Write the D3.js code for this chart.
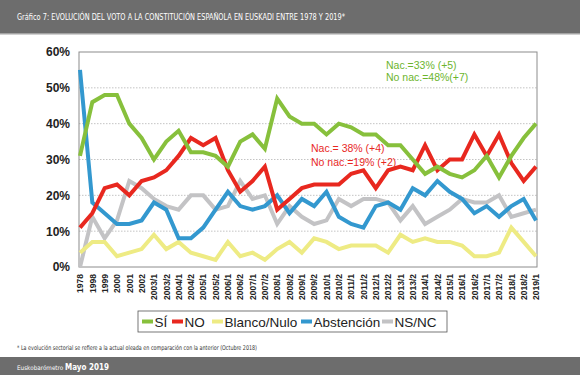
<!DOCTYPE html>
<html>
<head>
<meta charset="utf-8">
<script src="https://cdn.jsdelivr.net/npm/d3@7/dist/d3.min.js"></script>
<style>
  body { margin: 0; background: #fff; }
  svg { display: block; }
</style>
</head>
<body>
<svg id="chart" width="580" height="375"></svg>
<script>
const periods = ['1978', '1998', '1999', '2000', '2001', '2002', '2003/1', '2003/2', '2004/1', '2004/2',
  '2005/1', '2005/2', '2006/1', '2006/2', '2007/1', '2007/2', '2008/1', '2008/2', '2009/1', '2009/2',
  '2010/1', '2010/2', '2011/1', '2011/2', '2012/1', '2012/2', '2013/1', '2013/2', '2014/1', '2014/2',
  '2015/1', '2016/1', '2016/2', '2017/1', '2017/2', '2018/1', '2018/2', '2019/1'];

const si =        [31, 46, 48, 48, 40, 36, 30, 35, 38, 32, 32, 31, 28, 35, 37, 33, 47, 42, 40, 40,
                   37, 40, 39, 37, 37, 34, 34, 30, 26, 28, 26, 25, 27, 31, 25, 31, 36, 40];
const no =        [11, 15, 22, 23, 20, 24, 25, 27, 31, 36, 34, 36, 27, 21, 24, 28, 16, 19, 22, 23,
                   23, 23, 26, 27, 22, 27, 28, 27, 34, 27, 30, 30, 37, 31, 37, 29, 24, 28];
const blanco =    [4, 7, 7, 3, 4, 5, 9, 5, 7, 4, 3, 2, 7, 3, 4, 2, 5, 7, 4, 8,
                   7, 5, 6, 6, 6, 4, 9, 7, 8, 7, 7, 6, 3, 3, 4, 11, 7, 3];
const abstencion = [55, 18, 15, 12, 12, 13, 18, 16, 8, 8, 11, 16, 21, 17, 16, 17, 20, 15, 19, 17,
                   21, 14, 12, 11, 17, 18, 16, 22, 20, 24, 21, 19, 15, 17, 14, 17, 19, 13];
const nsnc =      [0, 14, 8, 13, 24, 22, 19, 17, 16, 20, 20, 16, 17, 24, 19, 20, 12, 17, 14, 12,
                   13, 19, 17, 19, 19, 18, 13, 17, 12, 14, 16, 19, 18, 18, 20, 14, 15, 16];
const yTicks = [0, 10, 20, 30, 40, 50, 60];

const series = [
  { name: 'NS/NC', values: nsnc, color: '#c3c3c5' },
  { name: 'Blanco/Nulo', values: blanco, color: '#eeeb84' },
  { name: 'Abstención', values: abstencion, color: '#3398cf' },
  { name: 'NO', values: no, color: '#e8281f' },
  { name: 'SÍ', values: si, color: '#87c03c' }
];
const legendOrder = ['SÍ', 'NO', 'Blanco/Nulo', 'Abstención', 'NS/NC'];

const svg = d3.select('#chart');
const W = 580, H = 375;
const plot = { left: 79, right: 537, top: 52, bottom: 267 };
const condFont = '"DejaVu Sans Condensed", "Liberation Sans Narrow", sans-serif';

// header / footer bars
svg.append('rect').attr('x', 0).attr('y', 0).attr('width', W).attr('height', 33).attr('fill', '#6d6d6d');
svg.append('rect').attr('x', 0).attr('y', 33).attr('width', W).attr('height', 1.5).attr('fill', '#a3a3a3');
svg.append('text')
  .attr('x', 17).attr('y', 20)
  .attr('fill', '#fff')
  .style('font-family', condFont)
  .style('font-size', '9px')
  .attr('textLength', 328).attr('lengthAdjust', 'spacingAndGlyphs')
  .text('Gráfico 7: EVOLUCIÓN DEL VOTO A LA CONSTITUCIÓN ESPAÑOLA EN EUSKADI ENTRE 1978 Y 2019*');

svg.append('rect').attr('x', 0).attr('y', 357).attr('width', W).attr('height', H - 357).attr('fill', '#6d6d6d');
const foot = svg.append('text')
  .attr('x', 17).attr('y', 370)
  .attr('fill', '#fff')
  .style('font-family', condFont);
foot.append('tspan').style('font-size', '6.3px').text('Euskobarómetro ');
foot.append('tspan').style('font-size', '8px').style('font-weight', 'bold').text('Mayo 2019');

svg.append('text')
  .attr('x', 17).attr('y', 350)
  .attr('fill', '#333')
  .style('font-family', condFont)
  .style('font-size', '6.5px')
  .attr('textLength', 240).attr('lengthAdjust', 'spacingAndGlyphs')
  .text('* La evolución sectorial se refiere a la actual oleada en comparación con la anterior (Octubre 2018)');

// scales
const x = d3.scalePoint().domain(periods).range([80, 536]);
const y = d3.scaleLinear().domain([0, 60]).range([plot.bottom, plot.top]);

// gridlines
svg.append('g')
  .selectAll('line')
  .data(yTicks.filter(d => d > 0 && d < 60))
  .enter()
  .append('line')
  .attr('x1', plot.left).attr('x2', plot.right)
  .attr('y1', d => y(d)).attr('y2', d => y(d))
  .attr('stroke', '#b5b5b5')
  .attr('stroke-width', 0.8)
  .attr('stroke-dasharray', '1.5,1.5');

// frame
svg.append('rect')
  .attr('x', plot.left).attr('y', plot.top)
  .attr('width', plot.right - plot.left).attr('height', plot.bottom - plot.top)
  .attr('fill', 'none').attr('stroke', '#8c8c8c').attr('stroke-width', 1);

// y axis
const yAxis = svg.append('g')
  .attr('transform', `translate(${plot.left},0)`)
  .call(d3.axisLeft(y).tickValues(yTicks).tickSize(0).tickPadding(9).tickFormat(d => d + '%'));
yAxis.select('.domain').remove();
yAxis.selectAll('text')
  .style('font-family', 'Arial, "Liberation Sans", sans-serif')
  .style('font-size', '12px')
  .style('font-weight', 'bold')
  .attr('fill', '#222');

// x axis
const xAxis = svg.append('g')
  .attr('transform', `translate(0,${plot.bottom})`)
  .call(d3.axisBottom(x).tickSize(0).tickPadding(0));
xAxis.select('.domain').remove();
xAxis.selectAll('text')
  .style('font-family', 'Arial, "Liberation Sans", sans-serif')
  .style('font-size', '8.5px')
  .style('font-weight', 'bold')
  .attr('fill', '#222')
  .attr('text-anchor', 'end')
  .attr('transform', 'rotate(-90)')
  .attr('x', -7).attr('y', 0).attr('dy', '0.32em');

// lines
const line = d3.line()
  .x((d, i) => x(periods[i]))
  .y(d => y(d));

svg.append('g')
  .selectAll('path')
  .data(series)
  .enter()
  .append('path')
  .attr('d', d => line(d.values))
  .attr('fill', 'none')
  .attr('stroke', d => d.color)
  .attr('stroke-width', 4)
  .attr('stroke-linejoin', 'miter')
  .attr('stroke-miterlimit', 3);

// annotations
const annFont = 'Arial, "Liberation Sans", sans-serif';
const ann = [
  { text: 'Nac.=33% (+5)', x: 386, y: 69, color: '#6cb52d' },
  { text: 'No nac.=48%(+7)', x: 386, y: 81, color: '#6cb52d' },
  { text: 'Nac.= 38% (+4)', x: 311, y: 152, color: '#e8281f' },
  { text: 'No nac.=19% (+2)', x: 311, y: 166, color: '#e8281f' }
];
svg.append('g')
  .selectAll('text')
  .data(ann)
  .enter()
  .append('text')
  .attr('x', d => d.x).attr('y', d => d.y)
  .attr('fill', d => d.color)
  .style('font-family', annFont)
  .style('font-size', '10.5px')
  .text(d => d.text);

// legend
const lg = svg.append('g');
lg.append('rect')
  .attr('x', 138).attr('y', 311).attr('width', 309).attr('height', 21)
  .attr('fill', '#fff').attr('stroke', '#555').attr('stroke-width', 0.8);
const legendX = [142, 172, 212, 301, 382];
legendOrder.forEach((name, i) => {
  const s = series.find(d => d.name === name);
  lg.append('rect')
    .attr('x', legendX[i]).attr('y', 319.5).attr('width', 11).attr('height', 4)
    .attr('fill', s.color);
  lg.append('text')
    .attr('x', legendX[i] + 12.5).attr('y', 326.5)
    .attr('fill', '#222')
    .style('font-family', annFont)
    .style('font-size', '13.5px')
    .text(name);
});
</script>
</body>
</html>
